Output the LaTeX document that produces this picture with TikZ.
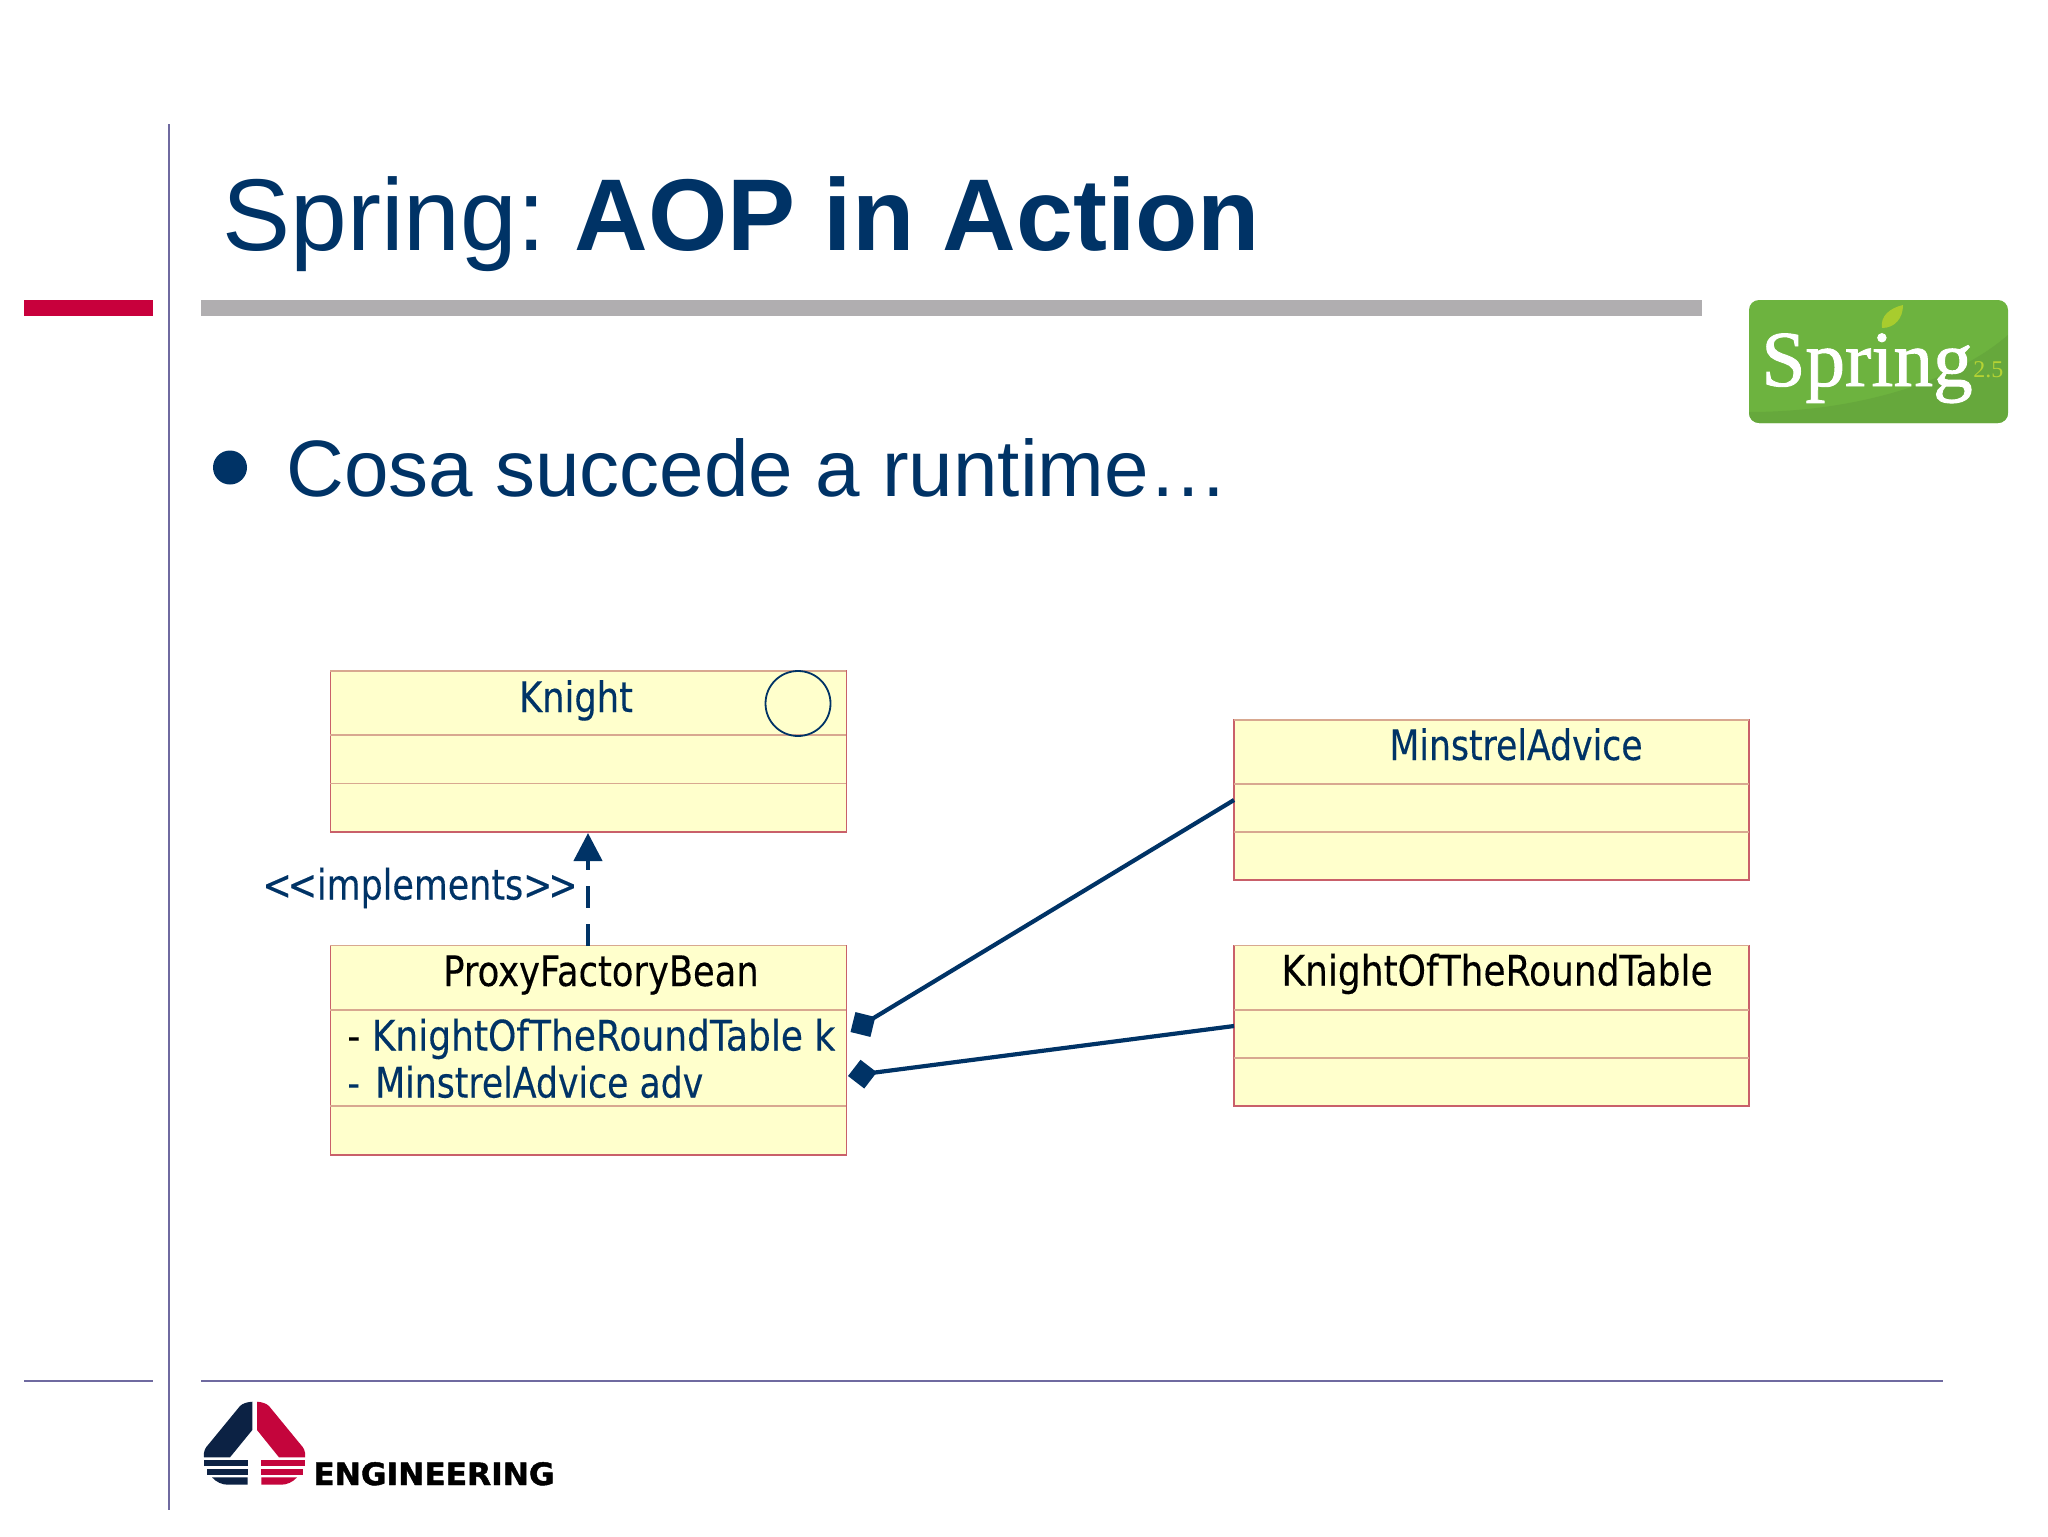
\documentclass[tikz,border=0pt]{standalone}
\usepackage{fontspec}
\setmainfont{Liberation Sans}
\newfontfamily\umlfont[FakeStretch=0.84,FakeBold=0.25]{DejaVu Sans}
\newfontfamily\umlfontN[FakeStretch=0.825,FakeBold=0.25]{DejaVu Sans}
\newfontfamily\umlfontW[FakeStretch=0.857,FakeBold=0.25]{DejaVu Sans}
\newfontfamily\umlfontI[FakeStretch=0.83,FakeBold=0.25]{DejaVu Sans}
\newfontfamily\logoserif[FakeBold=1.2]{Liberation Serif}
\newfontfamily\logoserifthin{Liberation Serif}
\newfontfamily\engfont[UprightFont={* Bold},FakeBold=1.4,FakeStretch=1.015]{DejaVu Sans}
\usetikzlibrary{arrows.meta,positioning,calc}
\definecolor{navy}{HTML}{003366}
\definecolor{purp}{HTML}{6F6AA0}
\definecolor{crim}{HTML}{C8003C}
\definecolor{greyb}{HTML}{B0AEB0}
\definecolor{umlfill}{HTML}{FFFFCC}
\definecolor{umlbord}{HTML}{C9606A}
\definecolor{umlsep}{HTML}{D8A890}
\definecolor{logodark}{HTML}{0C2244}
\definecolor{logored}{HTML}{C4053C}
\definecolor{sgreen}{HTML}{6DB33F}
\definecolor{sgreenb}{HTML}{66A83C}
\definecolor{sleaf}{HTML}{A8CC2E}
\definecolor{sver}{HTML}{B5D334}
\tikzset{
 x=0.5pt,y=-0.5pt,
 umlbox/.style={draw=umlbord,line width=0.6pt,fill=umlfill,inner sep=0pt,outer sep=0pt},
 sep/.style={draw=umlsep,line width=0.7pt},
 umltext/.style={inner sep=0pt,anchor=base,font=\umlfont\fontsize{21}{25}\selectfont,text=navy},
 rule/.style={line width=1pt,draw=purp},
 assoc/.style={draw=navy,line width=2.1pt,-{Diamond[length=14.5pt,width=14.5pt]}},
 impl/.style={draw=navy,line width=2.2pt,dash pattern=on 11pt off 8pt,-{Triangle[length=14pt,width=14pt]}},
}
\begin{document}
\begin{tikzpicture}
\useasboundingbox[fill=white] (0,0) rectangle (2048,1536);
% slide furniture
\draw[rule] (168.5,124) -- (168.5,1510);
\fill[crim] (24,300) rectangle (153,316);
\fill[greyb] (201,300) rectangle (1702,316);
\draw[rule] (24,1380.5) -- (153,1380.5);
\draw[rule] (201,1380.5) -- (1943,1380.5);
\node[anchor=base west,inner sep=0pt,text=navy,font=\fontsize{51}{60}\selectfont] (title) at (222,250) {Spring:\kern-4.5pt{} \textbf{AOP in Action}};
\fill[navy] (230,467.5) circle[radius=17];
\node[anchor=base west,inner sep=0pt,text=navy,font=\fontsize{40}{48}\selectfont] (bullet) at (286,496) {Cosa succede a runtime…};
% Spring logo
\fill[rounded corners=5pt,sgreen] (1749,300) rectangle (2008,423);
\begin{scope}
\clip[rounded corners=5pt] (1749,300) rectangle (2008,423);
\fill[sgreenb] (1749,423) -- (1749,412) .. controls (1850,412) and (1950,385) .. (2008,335) -- (2008,423) -- cycle;
\end{scope}
\fill[sleaf] (1882,328) .. controls (1880,316) and (1890,308) .. (1903,305) .. controls (1903,318) and (1895,328) .. (1882,328) -- cycle;
\node[anchor=base west,inner sep=0pt,text=white,font=\logoserif\fontsize{39.6}{46}\selectfont] (springw) at (1761,386) {Spring};
\node[anchor=base west,inner sep=0pt,text=sver,font=\logoserifthin\fontsize{12}{14}\selectfont] (springv) at (1973,377) {2.5};
% Engineering logo
\fill[logodark] (252.3,1401.7) -- (252.3,1430) -- (230,1457.3) -- (204,1457.3) .. controls (203,1451) and (206,1447) .. (208,1445) -- (240,1406) .. controls (243,1403) and (248,1402) .. (252.3,1401.7) -- cycle;
\fill[logored] (257,1401.7) -- (257,1430) -- (279,1457.3) -- (305,1457.3) .. controls (306,1451) and (303,1447) .. (301,1445) -- (269,1406) .. controls (266,1403) and (261,1402) .. (257,1401.7) -- cycle;
\fill[logodark] (204,1460.3) rectangle (247.7,1465.7);
\fill[logodark] (207,1468.7) rectangle (247.7,1474.7);
\fill[logodark] (212,1477.3) -- (247.7,1477.3) -- (247.7,1484.7) -- (228,1484.7) .. controls (222,1484.7) and (216,1482) .. (212,1477.3) -- cycle;
\fill[logored] (261.3,1460.3) rectangle (305.3,1465.7);
\fill[logored] (261.3,1468.7) rectangle (302.5,1474.7);
\fill[logored] (261.3,1477.3) -- (297,1477.3) .. controls (293,1482) and (287,1484.7) .. (281,1484.7) -- (261.3,1484.7) -- cycle;
\node[anchor=base west,inner sep=0pt,text=black,font=\engfont\fontsize{15.4}{18}\selectfont] (eng) at (313,1485) {ENGINEERING};
% Knight
\path[umlbox] (330.4,671) rectangle (846.3,832);
\coordinate (knightS) at (588,833);
\draw[sep] (330.4,671) -- (846.3,671);
\draw[sep] (330.4,735) -- (846.3,735);
\draw[sep] (330.4,783.6) -- (846.3,783.6);
\node[umltext] (knightT) at (576,712) {Knight};
\node[draw=navy,line width=0.9pt,circle,minimum size=32.5pt,inner sep=0pt,fill=none] (lolly) at (798,703.5) {};
% MinstrelAdvice
\path[umlbox] (1234,720) rectangle (1749,880);
\coordinate (minW) at (1234,800);
\draw[sep] (1234,720) -- (1749,720);
\draw[sep] (1234,784) -- (1749,784);
\draw[sep] (1234,832) -- (1749,832);
\node[umltext,font=\umlfontN\fontsize{21}{25}\selectfont] (minT) at (1516,760) {MinstrelAdvice};
% ProxyFactoryBean
\path[umlbox] (330.4,945.6) rectangle (846.3,1155);
\coordinate (proxyN) at (588,945.6);
\coordinate (proxyA) at (850.5,1032);
\coordinate (proxyB) at (848,1076);
\draw[sep] (330.4,945.6) -- (846.3,945.6);
\draw[sep] (330.4,1010) -- (846.3,1010);
\draw[sep] (330.4,1106) -- (846.3,1106);
\node[umltext,text=black] (proxyT) at (601,986) {ProxyFactoryBean};
\node[umltext,anchor=base west,font=\umlfontW\fontsize{21}{25}\selectfont] (attrA) at (347,1050.5) {{\color{black}-} KnightOfTheRoundTable k};
\node[umltext,anchor=base west,font=\umlfontN\fontsize{21}{25}\selectfont] (attrB) at (347,1097.5) {-\kern2.2pt{} MinstrelAdvice adv};
% KnightOfTheRoundTable
\path[umlbox] (1234,945.6) rectangle (1749,1106);
\coordinate (kotW) at (1234,1026);
\draw[sep] (1234,945.6) -- (1749,945.6);
\draw[sep] (1234,1010) -- (1749,1010);
\draw[sep] (1234,1058) -- (1749,1058);
\node[umltext,text=black,font=\umlfontW\fontsize{21}{25}\selectfont] (kotT) at (1497,985.5) {KnightOfTheRoundTable};
% connectors
\draw[impl] (proxyN) -- (knightS);
\node[umltext,anchor=base east,font=\umlfontI\fontsize{21}{25}\selectfont] (implT) at (578,899.5) {<\kern-2pt{}<implements>\kern-2pt{}>};
\draw[assoc] (minW) -- (proxyA);
\draw[assoc] (kotW) -- (proxyB);
\end{tikzpicture}
\end{document}
